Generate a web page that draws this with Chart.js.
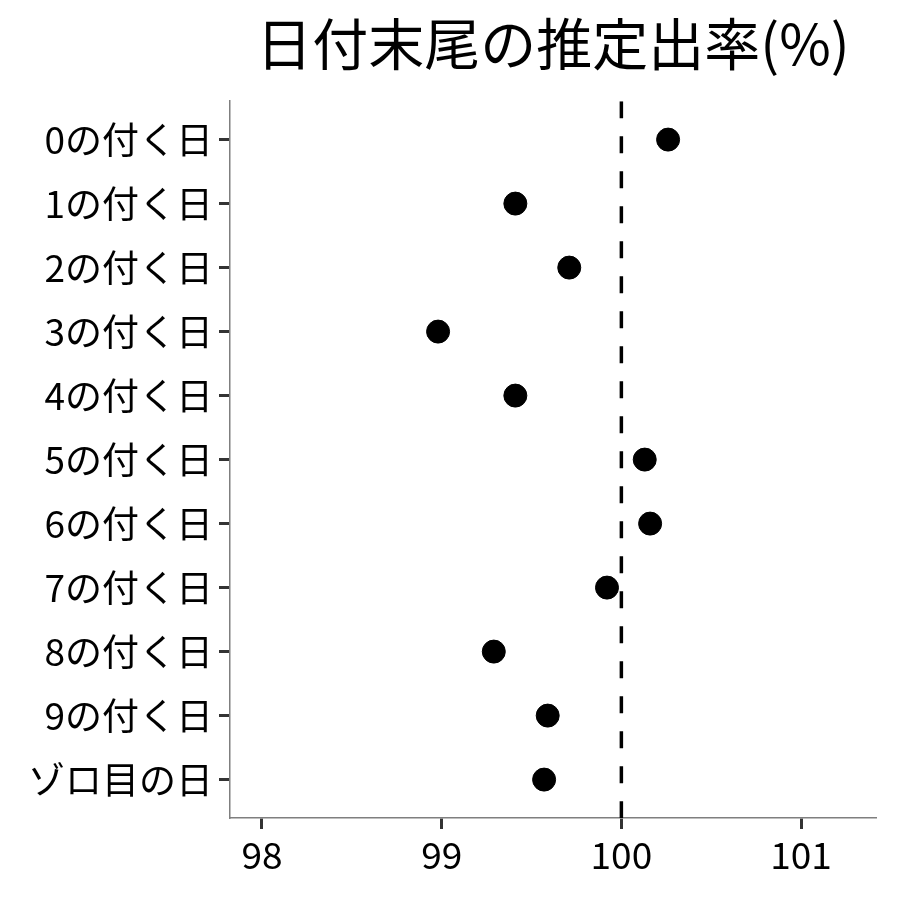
<!DOCTYPE html>
<html>
<head>
<meta charset="utf-8">
<script src="https://cdn.jsdelivr.net/npm/chart.js@4/dist/chart.umd.min.js"></script>
<style>
  body { margin: 0; background: #fff; }
  canvas { display: block; }
</style>
</head>
<body>
<canvas id="chart" width="900" height="900"></canvas>
<script>
// 日付末尾ごとの推定出率
const categories = ['0の付く日', '1の付く日', '2の付く日', '3の付く日', '4の付く日',
  '5の付く日', '6の付く日', '7の付く日', '8の付く日', '9の付く日', 'ゾロ目の日'];
const rates = [100.26, 99.41, 99.71, 98.98, 99.41, 100.13, 100.16, 99.92, 99.29, 99.59, 99.57];
const xTicks = [98, 99, 100, 101];
const refLine = 100;

const font = "'Noto Sans CJK JP', 'Noto Sans', sans-serif";

const points = rates.map((v, i) => ({ x: v, y: i }));

new Chart(document.getElementById('chart'), {
  type: 'scatter',
  data: {
    datasets: [
      {
        type: 'line',
        data: [{ x: refLine, y: -0.6 }, { x: refLine, y: categories.length - 0.4 }],
        borderColor: '#000',
        borderWidth: 3.5,
        borderDash: [17, 18],
        pointRadius: 0,
        fill: false
      },
      {
        data: points,
        backgroundColor: '#000',
        borderColor: '#000',
        pointRadius: 11.5,
        pointHoverRadius: 11.5
      }
    ]
  },
  options: {
    responsive: false,
    animation: false,
    layout: { padding: { left: 0, right: 24, top: 0, bottom: 0 } },
    plugins: {
      legend: { display: false },
      tooltip: { enabled: false },
      title: {
        display: true,
        text: '日付末尾の推定出率(%)',
        fullSize: false,
        color: '#000',
        font: { family: font, size: 56, weight: 'normal', lineHeight: 1.2 },
        padding: { top: 10, bottom: 24 }
      }
    },
    scales: {
      x: {
        type: 'linear',
        min: 97.822,
        max: 101.417,
        afterBuildTicks: axis => { axis.ticks = xTicks.map(v => ({ value: v })); },
        afterFit: axis => { axis.height = 82; },
        border: { display: true, color: '#7f7f7f', width: 1.5 },
        grid: { display: true, drawOnChartArea: false, tickLength: 11, tickColor: '#333', tickWidth: 3 },
        ticks: { color: '#000', padding: 4, font: { family: font, size: 37 } }
      },
      y: {
        type: 'linear',
        reverse: true,
        min: -0.6,
        max: categories.length - 0.4,
        afterBuildTicks: axis => { axis.ticks = categories.map((c, i) => ({ value: i })); },
        afterFit: axis => { axis.width = 230; },
        border: { display: true, color: '#7f7f7f', width: 1.5 },
        grid: { display: true, drawOnChartArea: false, tickLength: 11, tickColor: '#333', tickWidth: 3 },
        ticks: {
          color: '#000',
          padding: 6,
          font: { family: font, size: 37 },
          callback: v => categories[v]
        }
      }
    }
  }
});
</script>
</body>
</html>
